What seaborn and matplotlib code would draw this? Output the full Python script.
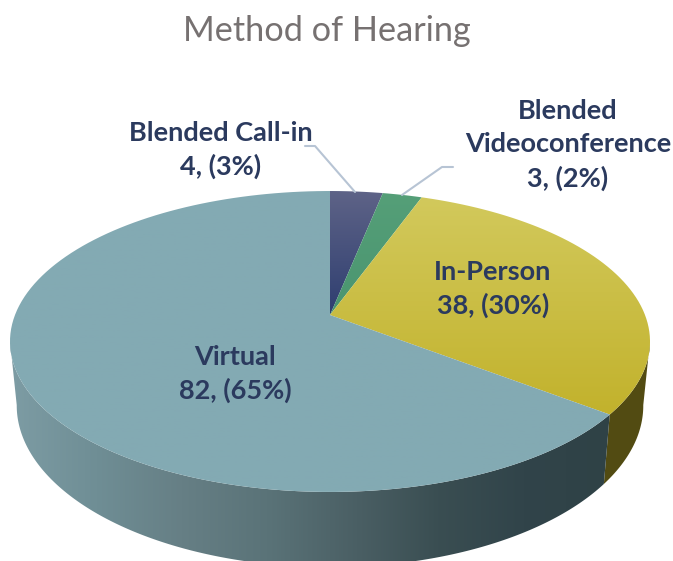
import numpy as np
import matplotlib
matplotlib.use("Agg")
import matplotlib.pyplot as plt
from matplotlib.patches import Polygon
from matplotlib.transforms import Affine2D
import seaborn as sns

names = ["Blended Call-in", "Blended\nVideoconference", "In-Person", "Virtual"]
counts = [4, 3, 38, 82]
percents = [3, 2, 30, 65]

top_colors = [["#5e6387", "#2e3e70"], ["#559f78", "#4a9570"], ["#d2c95c", "#c2b22c"], ["#83aab3", "#83aab3"]]
side_colors = ["#3a4a78", "#3f7a58", "#524b12"]
wall_colors = ["#7d9ca4", "#6f8e95", "#667f85", "#5a7378", "#4b6065", "#3a4e52", "#31444a", "#2f4246"]

sns.set_theme(style="white")
plt.rcParams["font.family"] = ["Lato", "DejaVu Sans"]

fig, ax = plt.subplots(figsize=(6.73, 5.61), dpi=100)
fig.subplots_adjust(0, 0, 1, 1)

wedges, _ = ax.pie(counts, startangle=90, counterclock=False)


# tilted disc: unit circle to picture pixels
def project(u, v, drop=0.0):
    s = 1 / (1 + 0.176 * v)
    shrink = 1 - 0.021 * (drop > 0)
    return 330 + 315 * shrink * u * s, 315 - 145.8 * v * s + drop * s


def gradient_fill(xy, cmap, horizontal=False, zorder=2):
    patch = Polygon(xy, closed=True, facecolor="none", edgecolor="none", zorder=zorder)
    ax.add_patch(patch)
    grad = np.linspace(0, 1, 256)
    grad = grad[None, :] if horizontal else grad[:, None]
    x0, x1 = xy[:, 0].min(), xy[:, 0].max()
    y0, y1 = xy[:, 1].min(), xy[:, 1].max()
    im = ax.imshow(grad, extent=(x0, x1, y1, y0), cmap=cmap, aspect="auto", zorder=zorder, vmin=0, vmax=1)
    im.set_clip_path(patch)


tops = []
arcs = []
for w in wedges:
    pts = w.get_path().to_polygons(Affine2D().scale(1000))[0] / 1000
    x, y = project(pts[:, 0], pts[:, 1])
    tops.append(np.column_stack([x, y]))
    arcs.append((w.theta1, w.theta2))
    w.remove()

# side wall, only the front part of the rim shows
for i, (t1, t2) in enumerate(arcs):
    a1 = max(t1, -170)
    a2 = min(t2, -10)
    if a2 <= a1:
        continue
    t = np.radians(np.linspace(a1, a2, 200))
    xa, ya = project(np.cos(t), np.sin(t))
    xb, yb = project(np.cos(t), np.sin(t), drop=62)
    side = np.column_stack([np.r_[xa, xb[::-1]], np.r_[ya, yb[::-1]]])
    if i == 3:
        gradient_fill(side, sns.blend_palette(wall_colors, as_cmap=True), horizontal=True, zorder=1)
    else:
        ax.add_patch(Polygon(side, closed=True, facecolor=side_colors[i], edgecolor="none", zorder=1))

for xy, cols in zip(tops, top_colors):
    gradient_fill(xy, sns.blend_palette(cols, as_cmap=True), zorder=2)

# leader lines
ax.plot([305, 315, 355], [146, 146, 192], color="#b7c4d4", lw=1.5, zorder=3)
ax.plot([453, 442, 402], [167, 167, 195], color="#b7c4d4", lw=1.5, zorder=3)

label_x = [221, 568, 493, 235]
label_y = [150, 145, 289, 374]
for name, c, p, lx, ly in zip(names, counts, percents, label_x, label_y):
    ax.text(lx, ly, f"{name}\n{c}, ({p}%)", ha="center", va="center", fontsize=19.5,
            fontweight="bold", color="#2b3a5e", linespacing=1.43, zorder=4)

ax.text(327, 31, "Method of Hearing", ha="center", va="center", fontsize=24.7, color="#767171", zorder=4)

ax.set_aspect("auto")
ax.set_xlim(0, 673)
ax.set_ylim(561, 0)
ax.axis("off")
fig.savefig("out.png", dpi=100)
